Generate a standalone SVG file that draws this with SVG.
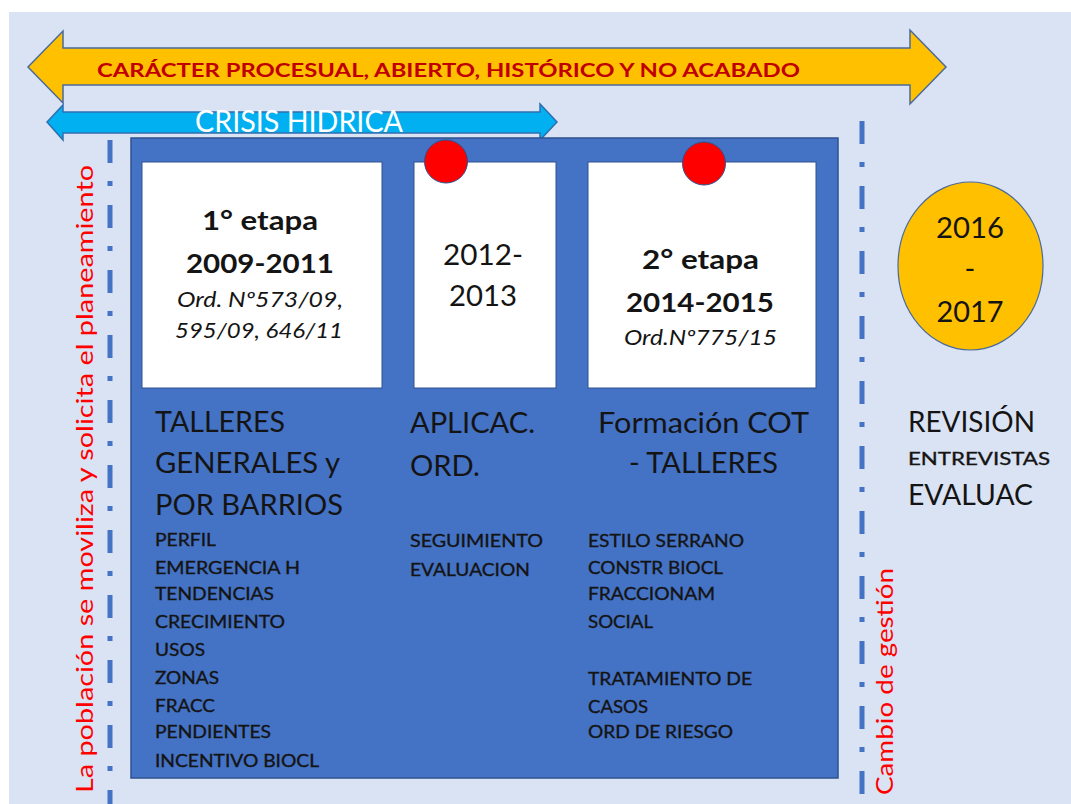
<svg xmlns="http://www.w3.org/2000/svg" width="1071" height="804" viewBox="0 0 1071 804">
<style>
.t{font-family:Lato,"Open Sans","Liberation Sans",sans-serif;fill:#141414}
.b{font-weight:bold}
.i{font-style:italic}
.big{font-size:28px}
.sm{font-size:18px;stroke:#141414;stroke-width:0.35}
.red{fill:#FF0000;font-family:Lato,"Open Sans","Liberation Sans",sans-serif}
.card{fill:#FFFFFF;stroke:#2F528F;stroke-width:1}
.pin{fill:#FF0000;stroke:#2F528F;stroke-width:1}
.dash{stroke:#4472C4;stroke-width:5;fill:none;stroke-dasharray:23 18 5 19}
</style>
<rect x="0" y="0" width="1071" height="804" fill="#FFFFFF"/>
<rect x="9" y="12" width="1062" height="792" fill="#DAE3F3"/>

<g id="arrow-caracter">
<polygon points="28,67 63,31 63,48 910,48 910,30 946,67 910,104 910,85 63,85 63,103" fill="#FFC000" stroke="#4A6A9A" stroke-width="1.5"/>
<text class="b" x="97" y="77" font-family="Lato,'Liberation Sans',sans-serif" font-size="19" fill="#C00000" textLength="703" lengthAdjust="spacingAndGlyphs">CARÁCTER PROCESUAL, ABIERTO, HISTÓRICO Y NO ACABADO</text>
</g>

<g id="arrow-crisis">
<polygon points="47,122 63,105 63,112 540,112 540,104 557,122 540,140 540,133 63,133 63,140" fill="#00B0F0" stroke="#2F6FB0" stroke-width="1.5"/>
<text x="195" y="132" font-family="Lato,'Liberation Sans',sans-serif" font-size="30" fill="#FFFFFF" textLength="208" lengthAdjust="spacingAndGlyphs">CRISIS HIDRICA</text>
</g>

<g id="connectors">
<line class="dash" x1="110" y1="140" x2="110" y2="804"/>
<line class="dash" x1="862" y1="121" x2="862" y2="804"/>
</g>

<g id="label-poblacion">
<text class="red" font-size="24" transform="translate(93,793) rotate(-90)" textLength="628" lengthAdjust="spacingAndGlyphs">La población se moviliza y  solicita el planeamiento</text>
</g>
<g id="label-cambio">
<text class="red" font-size="23" transform="translate(893,795) rotate(-90)" textLength="227" lengthAdjust="spacingAndGlyphs">Cambio de gestión</text>
</g>

<g id="panel">
<rect x="131" y="138" width="707" height="640" fill="#4472C4" stroke="#2F528F" stroke-width="1.5"/>
</g>

<g id="etapa1">
<rect class="card" x="142" y="162" width="240" height="226"/>
<text class="t b" x="202" y="230" font-size="26" textLength="116" lengthAdjust="spacingAndGlyphs">1° etapa</text>
<text class="t b" x="186" y="273" font-size="27" textLength="148" lengthAdjust="spacingAndGlyphs">2009-2011</text>
<text class="t i" x="177" y="307" font-size="21" textLength="166" lengthAdjust="spacingAndGlyphs">Ord. Nº573/09,</text>
<text class="t i" x="175" y="338" font-size="21" textLength="168" lengthAdjust="spacingAndGlyphs">595/09, 646/11</text>
</g>

<g id="periodo-2012">
<rect class="card" x="414" y="162" width="142" height="226"/>
<circle class="pin" cx="446" cy="161.5" r="21.5"/>
<text class="t" x="443" y="265" font-size="29" textLength="80" lengthAdjust="spacingAndGlyphs">2012-</text>
<text class="t" x="449" y="306" font-size="29" textLength="68" lengthAdjust="spacingAndGlyphs">2013</text>
</g>

<g id="etapa2">
<rect class="card" x="588" y="162" width="228" height="226"/>
<circle class="pin" cx="704" cy="163.5" r="21.5"/>
<text class="t b" x="642" y="269" font-size="26" textLength="117" lengthAdjust="spacingAndGlyphs">2° etapa</text>
<text class="t b" x="626" y="312" font-size="27" textLength="148" lengthAdjust="spacingAndGlyphs">2014-2015</text>
<text class="t i" x="624" y="345" font-size="21" textLength="153" lengthAdjust="spacingAndGlyphs">Ord.Nº775/15</text>
</g>

<g id="talleres-generales">
<text class="t big" x="155" y="432" textLength="130" lengthAdjust="spacingAndGlyphs">TALLERES</text>
<text class="t big" x="155" y="473" textLength="185" lengthAdjust="spacingAndGlyphs">GENERALES y</text>
<text class="t big" x="155" y="515" textLength="188" lengthAdjust="spacingAndGlyphs">POR BARRIOS</text>
<text class="t sm" x="155" y="546" textLength="61" lengthAdjust="spacingAndGlyphs">PERFIL</text>
<text class="t sm" x="155" y="574" textLength="145" lengthAdjust="spacingAndGlyphs">EMERGENCIA H</text>
<text class="t sm" x="155" y="600" textLength="119" lengthAdjust="spacingAndGlyphs">TENDENCIAS</text>
<text class="t sm" x="155" y="628" textLength="130" lengthAdjust="spacingAndGlyphs">CRECIMIENTO</text>
<text class="t sm" x="155" y="656" textLength="50" lengthAdjust="spacingAndGlyphs">USOS</text>
<text class="t sm" x="155" y="684" textLength="64" lengthAdjust="spacingAndGlyphs">ZONAS</text>
<text class="t sm" x="155" y="712" textLength="60" lengthAdjust="spacingAndGlyphs">FRACC</text>
<text class="t sm" x="155" y="738" textLength="116" lengthAdjust="spacingAndGlyphs">PENDIENTES</text>
<text class="t sm" x="155" y="767" textLength="164" lengthAdjust="spacingAndGlyphs">INCENTIVO BIOCL</text>
</g>

<g id="aplicacion">
<text class="t big" x="410" y="433" textLength="125" lengthAdjust="spacingAndGlyphs">APLICAC.</text>
<text class="t big" x="410" y="476" textLength="70" lengthAdjust="spacingAndGlyphs">ORD.</text>
<text class="t sm" x="410" y="547" textLength="133" lengthAdjust="spacingAndGlyphs">SEGUIMIENTO</text>
<text class="t sm" x="410" y="576" textLength="120" lengthAdjust="spacingAndGlyphs">EVALUACION</text>
</g>

<g id="formacion-cot">
<text class="t big" x="598" y="433" textLength="211" lengthAdjust="spacingAndGlyphs">Formación COT</text>
<text class="t big" x="629" y="473" textLength="149" lengthAdjust="spacingAndGlyphs">- TALLERES</text>
<text class="t sm" x="588" y="547" textLength="156" lengthAdjust="spacingAndGlyphs">ESTILO SERRANO</text>
<text class="t sm" x="588" y="574" textLength="135" lengthAdjust="spacingAndGlyphs">CONSTR BIOCL</text>
<text class="t sm" x="588" y="600" textLength="127" lengthAdjust="spacingAndGlyphs">FRACCIONAM</text>
<text class="t sm" x="588" y="628" textLength="65" lengthAdjust="spacingAndGlyphs">SOCIAL</text>
<text class="t sm" x="588" y="685" textLength="164" lengthAdjust="spacingAndGlyphs">TRATAMIENTO DE</text>
<text class="t sm" x="588" y="713" textLength="60" lengthAdjust="spacingAndGlyphs">CASOS</text>
<text class="t sm" x="588" y="738" textLength="145" lengthAdjust="spacingAndGlyphs">ORD DE RIESGO</text>
</g>

<g id="periodo-2016">
<ellipse cx="970.5" cy="266" rx="72.5" ry="84" fill="#FFC000" stroke="#4A6A9A" stroke-width="1.2"/>
<text class="t" x="970" y="238" font-size="29" text-anchor="middle" textLength="68" lengthAdjust="spacingAndGlyphs">2016</text>
<text class="t" x="970" y="279" font-size="29" text-anchor="middle">-</text>
<text class="t" x="970" y="322" font-size="29" text-anchor="middle" textLength="67" lengthAdjust="spacingAndGlyphs">2017</text>
</g>

<g id="revision">
<text class="t big" x="908" y="432" font-size="27" textLength="127" lengthAdjust="spacingAndGlyphs">REVISIÓN</text>
<text class="t" x="908" y="465" font-size="18" stroke="#141414" stroke-width="0.35" textLength="142" lengthAdjust="spacingAndGlyphs">ENTREVISTAS</text>
<text class="t big" x="908" y="505" font-size="27" textLength="125" lengthAdjust="spacingAndGlyphs">EVALUAC</text>
</g>
</svg>
